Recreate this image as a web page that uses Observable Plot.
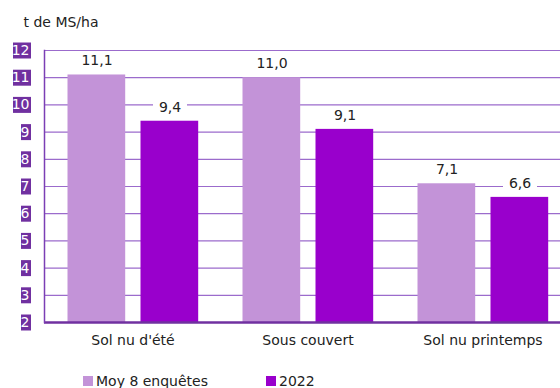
<!DOCTYPE html>
<html>
<head>
<meta charset="utf-8">
<script src="https://cdn.jsdelivr.net/npm/d3@7"></script>
<script src="https://cdn.jsdelivr.net/npm/@observablehq/plot@0.6"></script>
<style>
  html, body { margin: 0; padding: 0; background: #fff; }
  body { width: 560px; height: 388px; overflow: hidden; font-family: "DejaVu Sans", Verdana, sans-serif; }
  #legend { position: relative; height: 16px; margin-top: 7px; font-size: 14px; line-height: 16px; color: #222; }
  #legend .item { position: absolute; top: 0; white-space: nowrap; }
  #legend .sw { display: inline-block; width: 10px; height: 10px; margin-right: 3px; vertical-align: 0px; }
</style>
</head>
<body>
<div id="chart"></div>
<div id="legend"></div>
<script>
const categories = ["Sol nu d'été", "Sous couvert", "Sol nu printemps"];
const seriesNames = ["Moy 8 enquêtes", "2022"];
const moyValues = [11.1, 11.0, 7.1];
const values2022 = [9.4, 9.1, 6.6];
const yTicks = [2, 3, 4, 5, 6, 7, 8, 9, 10, 11, 12];
const yTitle = "t de MS/ha";
const colors = ["#c393d8", "#9900cc"];

const moy = categories.map((c, i) => ({cat: c, value: moyValues[i]}));
const y2022 = categories.map((c, i) => ({cat: c, value: values2022[i]}));
const fmt = v => v.toFixed(1).replace(".", ",");

const boxSymbol = w => ({
  draw(context) { context.rect(-w, -8, w, 16); }
});
const labelBox = {
  draw(context) { context.rect(-17, -7, 34, 14); }
};
const oneDigit = yTicks.filter(d => d < 10);
const twoDigit = yTicks.filter(d => d >= 10);

const font = "DejaVu Sans, Verdana, sans-serif";

const labelMarks = (data, dx) => [
  Plot.dot(data, {x: "cat", y: "value", dx, dy: -14, symbol: labelBox, fill: "white", stroke: "none"}),
  Plot.text(data, {x: "cat", y: "value", text: d => fmt(d.value), dx, dy: -14, fontSize: 14, fill: "#222"})
];

const plot = Plot.plot({
  width: 560,
  height: 366,
  marginLeft: 44,
  marginRight: -10,
  marginTop: 50,
  marginBottom: 44,
  style: {fontFamily: font, fontSize: "14px", color: "#222", background: "white"},
  x: {type: "band", domain: categories, padding: 0, axis: null},
  y: {domain: [2, 12], axis: null},
  marks: [
    Plot.ruleY(yTicks, {y: d => d, stroke: "#9b6bcc", strokeWidth: 1.2}),
    Plot.barY(moy, {x: "cat", y1: 2, y2: "value", fill: colors[0], insetLeft: 22.5, insetRight: 94.8}),
    Plot.barY(y2022, {x: "cat", y1: 2, y2: "value", fill: colors[1], insetLeft: 95.5, insetRight: 21.8}),
    Plot.ruleY([2], {stroke: "#7030a0", strokeWidth: 2.5}),
    Plot.frame({anchor: "left", stroke: "#7b3fb5", strokeWidth: 1.5}),
    ...labelMarks(moy, -36),
    ...labelMarks(y2022, 37),
    Plot.dot(oneDigit, {y: d => d, frameAnchor: "left", dx: -13.5, symbol: boxSymbol(10), fill: "#7030a0", stroke: "none"}),
    Plot.dot(twoDigit, {y: d => d, frameAnchor: "left", dx: -13.5, symbol: boxSymbol(18), fill: "#7030a0", stroke: "none"}),
    Plot.text(yTicks, {y: d => d, text: d => String(d), frameAnchor: "left", dx: -15, textAnchor: "end", fill: "white", fontSize: 14}),
    Plot.text(categories, {x: d => d, frameAnchor: "bottom", dy: 22, fontSize: 14, fill: "#222"}),
    Plot.text([yTitle], {frameAnchor: "top-left", dx: -21, dy: -33, lineAnchor: "top", textAnchor: "start", fontSize: 14, fill: "#222"})
  ]
});
document.getElementById("chart").appendChild(plot);

const legend = document.getElementById("legend");
const legendX = [83, 266];
seriesNames.forEach((name, i) => {
  const item = document.createElement("span");
  item.className = "item";
  item.style.left = legendX[i] + "px";
  const sw = document.createElement("span");
  sw.className = "sw";
  sw.style.background = colors[i];
  item.appendChild(sw);
  item.appendChild(document.createTextNode(name));
  legend.appendChild(item);
});
</script>
</body>
</html>
